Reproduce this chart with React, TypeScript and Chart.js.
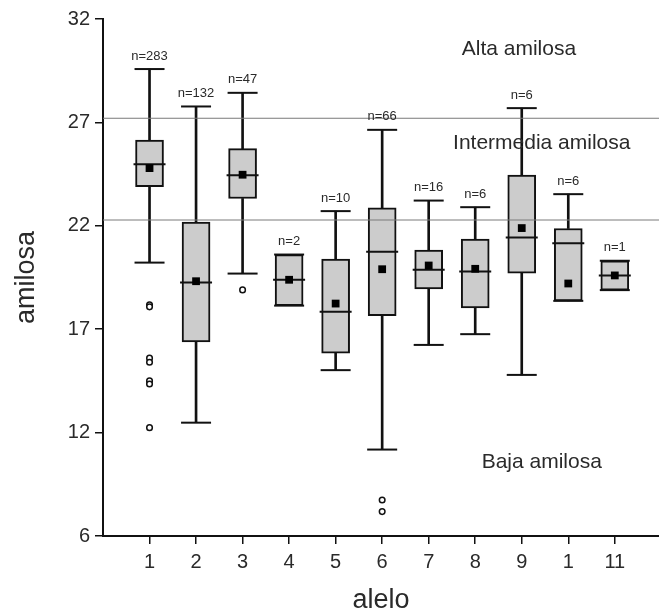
import React, { useEffect, useRef } from 'react';
import { Chart, registerables } from 'chart.js';

Chart.register(...registerables);

// ---- data ----
const alleles = [1, 2, 3, 4, 5, 6, 7, 8, 9, 10, 11];
const xTickLabels = ['1', '2', '3', '4', '5', '6', '7', '8', '9', '1', '11'];
const yTickValues = [7, 12, 17, 22, 27, 32];
const yTickLabels = ['6', '12', '17', '22', '27', '32'];
const nCounts = ['n=283', 'n=132', 'n=47', 'n=2', 'n=10', 'n=66', 'n=16', 'n=6', 'n=6', 'n=6', 'n=1'];
const whiskerLow = [20.22, 12.48, 19.69, 18.14, 15.02, 11.18, 16.24, 16.76, 14.79, 18.37, 18.89];
const q1 = [23.89, 16.39, 23.32, 18.14, 15.84, 17.66, 18.95, 18.03, 19.71, 18.37, 18.89];
const median = [24.98, 19.26, 24.45, 19.39, 17.84, 20.74, 19.87, 19.79, 21.43, 21.16, 19.6];
const q3 = [26.15, 22.18, 25.73, 20.61, 20.39, 22.87, 20.82, 21.36, 24.45, 21.87, 20.31];
const whiskerHigh = [29.58, 27.77, 28.43, 20.61, 22.71, 26.64, 23.22, 22.9, 27.69, 23.53, 20.31];
const means = [24.79, 19.32, 24.47, 19.39, 18.24, 19.9, 20.08, 19.92, 21.89, 19.21, 19.6];
const outlierAllele = [1, 1, 1, 1, 1, 1, 1, 3, 6, 6];
const outlierValue = [18.18, 18.08, 15.6, 15.4, 14.5, 14.35, 12.24, 18.9, 8.74, 8.18];
const thresholds = [27.2, 22.28];
const zoneLabels = ['Alta amilosa', 'Intermedia amilosa', 'Baja amilosa'];
const zoneX = [8.94, 9.43, 9.43];
const zoneY = [30.56, 25.97, 10.55];

const X_MIN = 0;
const X_MAX = 11.95;
const FONT = '"Liberation Sans", Arial, Helvetica, sans-serif';
const INK = '#111';
const TEXT = '#2a2a2a';

const textPlugin = {
  id: 'textAnnotations',
  afterDatasetsDraw(chart: any) {
    const { ctx, scales } = chart;
    const xs = scales.x;
    const ys = scales.y;
    ctx.save();
    ctx.fillStyle = TEXT;
    ctx.textAlign = 'center';
    ctx.textBaseline = 'middle';
    ctx.font = `13px ${FONT}`;
    alleles.forEach((a, i) => {
      ctx.fillText(nCounts[i], xs.getPixelForValue(a), ys.getPixelForValue(whiskerHigh[i]) - 13);
    });
    ctx.font = `21px ${FONT}`;
    zoneLabels.forEach((t, i) => {
      ctx.fillText(t, xs.getPixelForValue(zoneX[i]), ys.getPixelForValue(zoneY[i]));
    });
    ctx.restore();
  },
};

export default function App() {
  const ref = useRef<HTMLCanvasElement | null>(null);

  useEffect(() => {
    const canvas = ref.current;
    if (!canvas) return;

    const thresholdSets = thresholds.map((t) => ({
      type: 'line' as const,
      data: [
        { x: X_MIN, y: t },
        { x: X_MAX, y: t },
      ],
      borderColor: '#7a7a7a',
      borderWidth: 1,
      pointRadius: 0,
      fill: false,
      order: 3,
    }));

    const chart = new Chart(canvas, {
      type: 'bar',
      data: {
        datasets: [
          {
            type: 'bar',
            data: alleles.map((a, i) => ({ x: a, y: [whiskerLow[i], q1[i]] })),
            backgroundColor: INK,
            borderWidth: 0,
            barThickness: 2,
            grouped: false,
            order: 6,
          } as any,
          {
            type: 'bar',
            data: alleles.map((a, i) => ({ x: a, y: [q3[i], whiskerHigh[i]] })),
            backgroundColor: INK,
            borderWidth: 0,
            barThickness: 2,
            grouped: false,
            order: 6,
          } as any,
          {
            type: 'bar',
            data: alleles.map((a, i) => ({ x: a, y: [q1[i], q3[i]] })),
            backgroundColor: '#cccccc',
            borderColor: INK,
            borderWidth: 2,
            borderSkipped: false,
            barThickness: 28,
            grouped: false,
            order: 5,
          } as any,
          ...thresholdSets,
          {
            type: 'scatter',
            data: alleles.flatMap((a, i) => [
              { x: a, y: whiskerLow[i] },
              { x: a, y: whiskerHigh[i] },
            ]),
            pointStyle: 'line',
            pointRadius: 15,
            borderColor: INK,
            borderWidth: 2,
            order: 2,
          } as any,
          {
            type: 'scatter',
            data: alleles.map((a, i) => ({ x: a, y: median[i] })),
            pointStyle: 'line',
            pointRadius: 16,
            borderColor: INK,
            borderWidth: 2,
            order: 1,
          } as any,
          {
            type: 'scatter',
            data: alleles.map((a, i) => ({ x: a, y: means[i] })),
            pointStyle: 'rect',
            pointRadius: 5.5,
            backgroundColor: '#000',
            borderColor: '#000',
            borderWidth: 0,
            order: 0,
          } as any,
          {
            type: 'scatter',
            data: outlierAllele.map((a, i) => ({ x: a, y: outlierValue[i] })),
            pointStyle: 'circle',
            pointRadius: 2.8,
            backgroundColor: '#fff',
            borderColor: INK,
            borderWidth: 1.5,
            order: 0,
          } as any,
        ],
      },
      options: {
        responsive: false,
        animation: false,
        events: [],
        layout: { autoPadding: false, padding: { top: 19, right: 0, bottom: 0, left: 0 } },
        plugins: {
          legend: { display: false },
          title: { display: false },
          tooltip: { enabled: false },
        },
        scales: {
          x: {
            type: 'linear',
            min: X_MIN,
            max: X_MAX,
            bounds: 'data',
            offset: false,
            afterBuildTicks: (s: any) => {
              s.ticks = alleles.map((v) => ({ value: v }));
            },
            afterFit: (s: any) => {
              s.height = 75;
              s.paddingLeft = 0;
              s.paddingRight = 0;
            },
            ticks: {
              autoSkip: false,
              maxRotation: 0,
              padding: 6,
              color: TEXT,
              font: { family: FONT, size: 20 },
              callback: (_v: any, i: number) => xTickLabels[i],
            },
            grid: {
              offset: false,
              drawOnChartArea: false,
              drawTicks: true,
              tickLength: 8,
              color: INK,
              lineWidth: 1.5,
            },
            border: { display: true, color: INK, width: 2 },
            title: {
              display: true,
              text: 'alelo',
              color: TEXT,
              padding: 0,
              font: { family: FONT, size: 27, lineHeight: 0.8 },
            },
          } as any,
          y: {
            type: 'linear',
            min: 7,
            max: 32,
            bounds: 'data',
            afterBuildTicks: (s: any) => {
              s.ticks = yTickValues.map((v) => ({ value: v }));
            },
            afterFit: (s: any) => {
              s.width = 103;
            },
            ticks: {
              padding: 5,
              color: TEXT,
              font: { family: FONT, size: 20 },
              callback: (_v: any, i: number) => yTickLabels[i],
            },
            grid: {
              offset: false,
              drawOnChartArea: false,
              drawTicks: true,
              tickLength: 8,
              color: INK,
              lineWidth: 1.5,
            },
            border: { display: true, color: INK, width: 2 },
            title: {
              display: true,
              text: 'amilosa',
              color: TEXT,
              padding: { top: 10, bottom: 0 },
              font: { family: FONT, size: 27 },
            },
          } as any,
        },
      },
      plugins: [textPlugin],
    });

    return () => {
      chart.destroy();
    };
  }, []);

  return (
    <div
      style={{
        position: 'fixed',
        left: 0,
        top: 0,
        width: 659,
        height: 611,
        background: '#fff',
        overflow: 'hidden',
      }}
    >
      <canvas ref={ref} width={659} height={611} style={{ display: 'block' }} />
    </div>
  );
}
